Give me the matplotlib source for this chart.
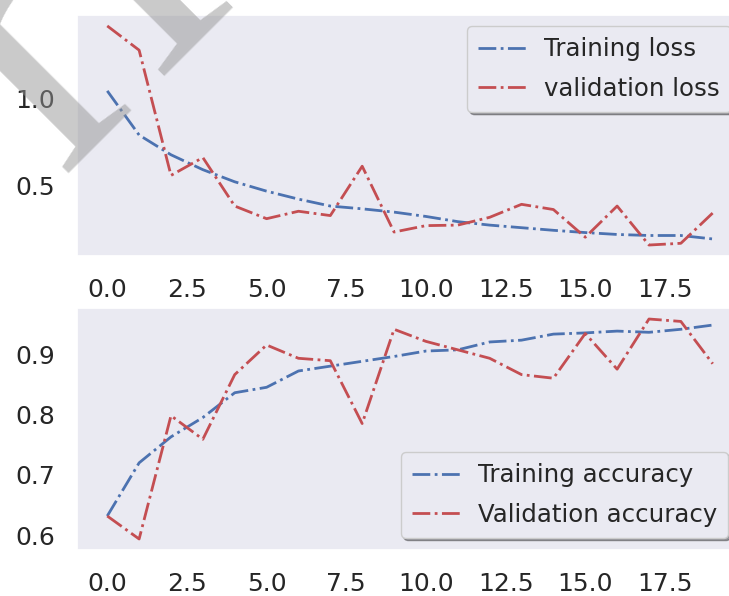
import matplotlib
matplotlib.use('Agg')
import matplotlib.pyplot as plt
import seaborn as sns

# Per-epoch training history
epochs = list(range(20))
train_loss = [1.045, 0.79, 0.676, 0.59, 0.52, 0.466, 0.42, 0.38, 0.364, 0.345,
              0.32, 0.29, 0.27, 0.255, 0.24, 0.227, 0.216, 0.21, 0.21, 0.19]
val_loss = [1.42, 1.28, 0.557, 0.66, 0.38, 0.307, 0.35, 0.325, 0.61, 0.23,
            0.267, 0.27, 0.315, 0.39, 0.36, 0.2, 0.38, 0.155, 0.165, 0.34]
train_acc = [0.632, 0.72, 0.763, 0.795, 0.836, 0.845, 0.872, 0.88, 0.888, 0.896,
             0.905, 0.907, 0.92, 0.923, 0.933, 0.935, 0.938, 0.936, 0.941, 0.948]
val_acc = [0.632, 0.594, 0.798, 0.759, 0.866, 0.915, 0.893, 0.889, 0.785, 0.941,
           0.921, 0.907, 0.893, 0.866, 0.86, 0.934, 0.875, 0.958, 0.954, 0.884]

x_ticks = [0, 2.5, 5, 7.5, 10, 12.5, 15, 17.5]
loss_ticks = [0.5, 1.0]
acc_ticks = [0.6, 0.7, 0.8, 0.9]

sns.set_theme(style='darkgrid', rc={'axes.grid': False})
plt.rcParams['font.family'] = ['DejaVu Sans']
plt.rcParams['xtick.labelsize'] = 18
plt.rcParams['ytick.labelsize'] = 18
plt.rcParams['legend.fontsize'] = 17.6
plt.rcParams['xtick.major.pad'] = 16
plt.rcParams['ytick.major.pad'] = 16

BLUE = '#4C72B0'
RED = '#C44E52'

fig = plt.figure(figsize=(7.29, 5.96), dpi=100)
ax1 = fig.add_axes([0.1056, 0.5705, 0.9136, 0.4044])
ax2 = fig.add_axes([0.1056, 0.0772, 0.9136, 0.406])

leg_kw = dict(shadow=True, frameon=True, labelspacing=0.64, borderpad=0.45,
              handletextpad=0.7)

ax1.plot(epochs, train_loss, '-.', color=BLUE, lw=2, label='Training loss')
ax1.plot(epochs, val_loss, '-.', color=RED, lw=2, label='validation loss')
ax1.legend(loc='upper right', bbox_to_anchor=(1.0, 1.004), **leg_kw)
ax1.set_yticks(loss_ticks)

ax2.plot(epochs, train_acc, '-.', color=BLUE, lw=2, label='Training accuracy')
ax2.plot(epochs, val_acc, '-.', color=RED, lw=2, label='Validation accuracy')
ax2.legend(loc='lower right', bbox_to_anchor=(0.996, 0.0), **leg_kw)
ax2.set_yticks(acc_ticks)

for ax in (ax1, ax2):
    ax.set_xticks(x_ticks)
    ax.tick_params(length=0, colors='#262626')

# diagonal page watermark over the corner
fig.text(-486 / 729, 1 - 715 / 596, 'PrePrint', family='Liberation Serif',
         fontsize=294, rotation=45, rotation_mode='anchor', ha='left', va='baseline',
         color='#959595', alpha=0.5, zorder=10)

fig.savefig('out.png', dpi=100)
